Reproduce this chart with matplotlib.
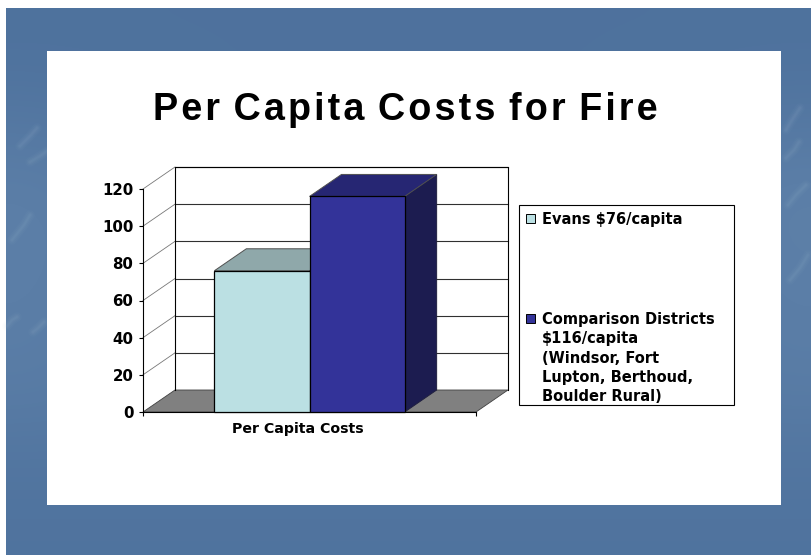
import matplotlib

matplotlib.use("Agg")

import matplotlib.pyplot as plt
import numpy as np
from matplotlib.colors import LinearSegmentedColormap
from matplotlib.patches import Rectangle

title_words = ["Per", "Capita", "Costs", "for", "Fire"]
category = "Per Capita Costs"
series_values = [76, 116]
series_labels = [
    ["Evans $76/capita"],
    [
        "Comparison Districts",
        "$116/capita",
        "(Windsor, Fort",
        "Lupton, Berthoud,",
        "Boulder Rural)",
    ],
]
y_ticks = [0, 20, 40, 60, 80, 100, 120]

front_colors = ["#bbe0e3", "#333399"]
top_colors = ["#8fa8aa", "#262673"]
side_colors = ["#6f8688", "#1c1c50"]

# slide background shades, coarse grid blown up with bicubic interpolation
bg_shades = [
    [0.10, 0.10, 0.10, 0.10, 0.10, 0.10, 0.10, 0.10, 0.10],
    [0.25, 0.15, 0.10, 0.10, 0.10, 0.10, 0.10, 0.15, 0.25],
    [0.50, 0.30, 0.20, 0.20, 0.20, 0.20, 0.20, 0.35, 0.55],
    [0.55, 0.30, 0.20, 0.20, 0.20, 0.20, 0.20, 0.35, 0.55],
    [0.50, 0.30, 0.20, 0.20, 0.20, 0.20, 0.20, 0.35, 0.50],
    [0.45, 0.30, 0.20, 0.20, 0.20, 0.20, 0.20, 0.35, 0.45],
    [0.25, 0.25, 0.25, 0.25, 0.25, 0.25, 0.25, 0.25, 0.25],
    [0.15, 0.15, 0.15, 0.15, 0.15, 0.15, 0.15, 0.15, 0.15],
]

# light streaks along the side strips of the slide
streaks = [
    [(20, 146), (30, 136), (37, 128)],
    [(30, 162), (40, 156), (47, 151)],
    [(7, 326), (12, 320), (17, 317)],
    [(33, 332), (38, 328), (44, 322)],
    [(12, 240), (24, 225), (30, 215)],
    [(786, 130), (792, 120), (800, 108)],
    [(786, 158), (794, 150), (799, 142)],
    [(788, 205), (796, 195), (806, 185)],
    [(790, 280), (800, 268), (808, 255)],
]

W, H = 812, 555
FLOOR_DX, FLOOR_DY = 32, 22  # depth of the 3d box, in pixels
AX_LEFT, AX_RIGHT, AX_TOP, AX_BOTTOM = 143, 476, 189, 412
GAP = 1.5  # gap width relative to one bar

plt.rcParams["font.family"] = ["DejaVu Sans"]

fig = plt.figure(figsize=(W / 100, H / 100), dpi=100, facecolor="white")

# full figure layer in pixel units
bg = fig.add_axes([0, 0, 1, 1], zorder=0)
bg.set_xlim(0, W)
bg.set_ylim(H, 0)
bg.axis("off")

blues = LinearSegmentedColormap.from_list("slide", ["#4b6f9b", "#6b8db3"])
bg.imshow(
    np.array(bg_shades),
    cmap=blues,
    vmin=0,
    vmax=1,
    extent=(6, W, H, 8),
    aspect="auto",
    interpolation="bicubic",
)
bg.set_xlim(0, W)
bg.set_ylim(H, 0)
for streak in streaks:
    xs, ys = zip(*streak)
    for lw, alpha in [(7, 0.03), (5, 0.04), (3, 0.05), (1.5, 0.05)]:
        bg.plot(xs, ys, color="#a9c0d8", lw=lw, alpha=alpha, solid_capstyle="round")

bg.add_patch(Rectangle((47, 51), 734, 454, facecolor="white", edgecolor="none", zorder=3))

# hair spaces open the letters up and widen the word gaps a little
bg.text(
    405,
    120,
    "\u200a ".join("\u200a".join(word) for word in title_words),
    family=["Liberation Sans", "DejaVu Sans"],
    fontsize=27.2,
    fontweight="bold",
    ha="center",
    va="baseline",
    color="black",
    zorder=4,
)

# legend box
bg.add_patch(Rectangle((519, 205), 215, 200, facecolor="white", edgecolor="black", lw=0.8, zorder=4))
legend_first_baselines = [224, 324]
for i, lines in enumerate(series_labels):
    base = legend_first_baselines[i]
    bg.add_patch(
        Rectangle((526, base - 10.5), 9, 9.5, facecolor=front_colors[i], edgecolor="black", lw=0.7, zorder=5)
    )
    for j, line in enumerate(lines):
        bg.text(
            542,
            base + j * 19.3,
            line,
            fontsize=10.5,
            fontweight="bold",
            ha="left",
            va="baseline",
            color="black",
            zorder=5,
        )

# chart layer: x runs 0-1 over the category, y is in dollars
ax = fig.add_axes(
    [
        AX_LEFT / W,
        1 - AX_BOTTOM / H,
        (AX_RIGHT - AX_LEFT) / W,
        (AX_BOTTOM - AX_TOP) / H,
    ],
    zorder=2,
)
ax.patch.set_visible(False)
ax.set_xlim(0, 1)
ax.set_ylim(0, 120)

dx = FLOOR_DX / (AX_RIGHT - AX_LEFT)
dy = FLOOR_DY / (AX_BOTTOM - AX_TOP) * 120

# floor and back wall
ax.fill(
    [0, dx, 1 + dx, 1],
    [0, dy, dy, 0],
    facecolor="#808080",
    edgecolor="#404040",
    lw=0.6,
    clip_on=False,
    zorder=1,
)
for v in y_ticks:
    if v == 0:
        continue
    ax.plot([0, dx], [v, v + dy], color="#777777", lw=0.6, clip_on=False, zorder=1)
    ax.plot([dx, 1 + dx], [v + dy, v + dy], color="#303030", lw=0.8, clip_on=False, zorder=1)
ax.plot(
    [dx, dx, 1 + dx, 1 + dx],
    [dy, 120 + dy, 120 + dy, dy],
    color="black",
    lw=0.8,
    clip_on=False,
    zorder=1,
)

# bars with their top and side faces
width = 1 / (len(series_values) + GAP)
for i, value in enumerate(series_values):
    left = (GAP / 2 + i) * width
    right = left + width
    z = 3 + i
    ax.fill(
        [right, right + dx, right + dx, right],
        [0, dy, value + dy, value],
        facecolor=side_colors[i],
        edgecolor="#202040",
        lw=0.7,
        clip_on=False,
        zorder=z,
    )
    ax.fill(
        [left, left + dx, right + dx, right],
        [value, value + dy, value + dy, value],
        facecolor=top_colors[i],
        edgecolor="#505050",
        lw=0.7,
        clip_on=False,
        zorder=z,
    )
    ax.bar(
        left,
        value,
        width,
        align="edge",
        color=front_colors[i],
        edgecolor="black",
        linewidth=0.9,
        clip_on=False,
        zorder=z,
    )

for side in ["top", "right"]:
    ax.spines[side].set_visible(False)
for side in ["left", "bottom"]:
    ax.spines[side].set_linewidth(0.8)

ax.set_yticks(y_ticks)
ax.tick_params(axis="y", length=3, width=0.8, pad=4)
for label in ax.get_yticklabels():
    label.set_fontsize(10.8)
    label.set_fontweight("bold")

ax.set_xticks([0, 1])
ax.set_xticklabels(["", ""])
ax.tick_params(axis="x", length=3, width=0.8)
ax.set_xticks([(298 - AX_LEFT) / (AX_RIGHT - AX_LEFT)], minor=True)
ax.set_xticklabels([category], minor=True, fontsize=10.2, fontweight="bold")
ax.tick_params(axis="x", which="minor", length=0, pad=7)

fig.savefig("out.png", dpi=100)
